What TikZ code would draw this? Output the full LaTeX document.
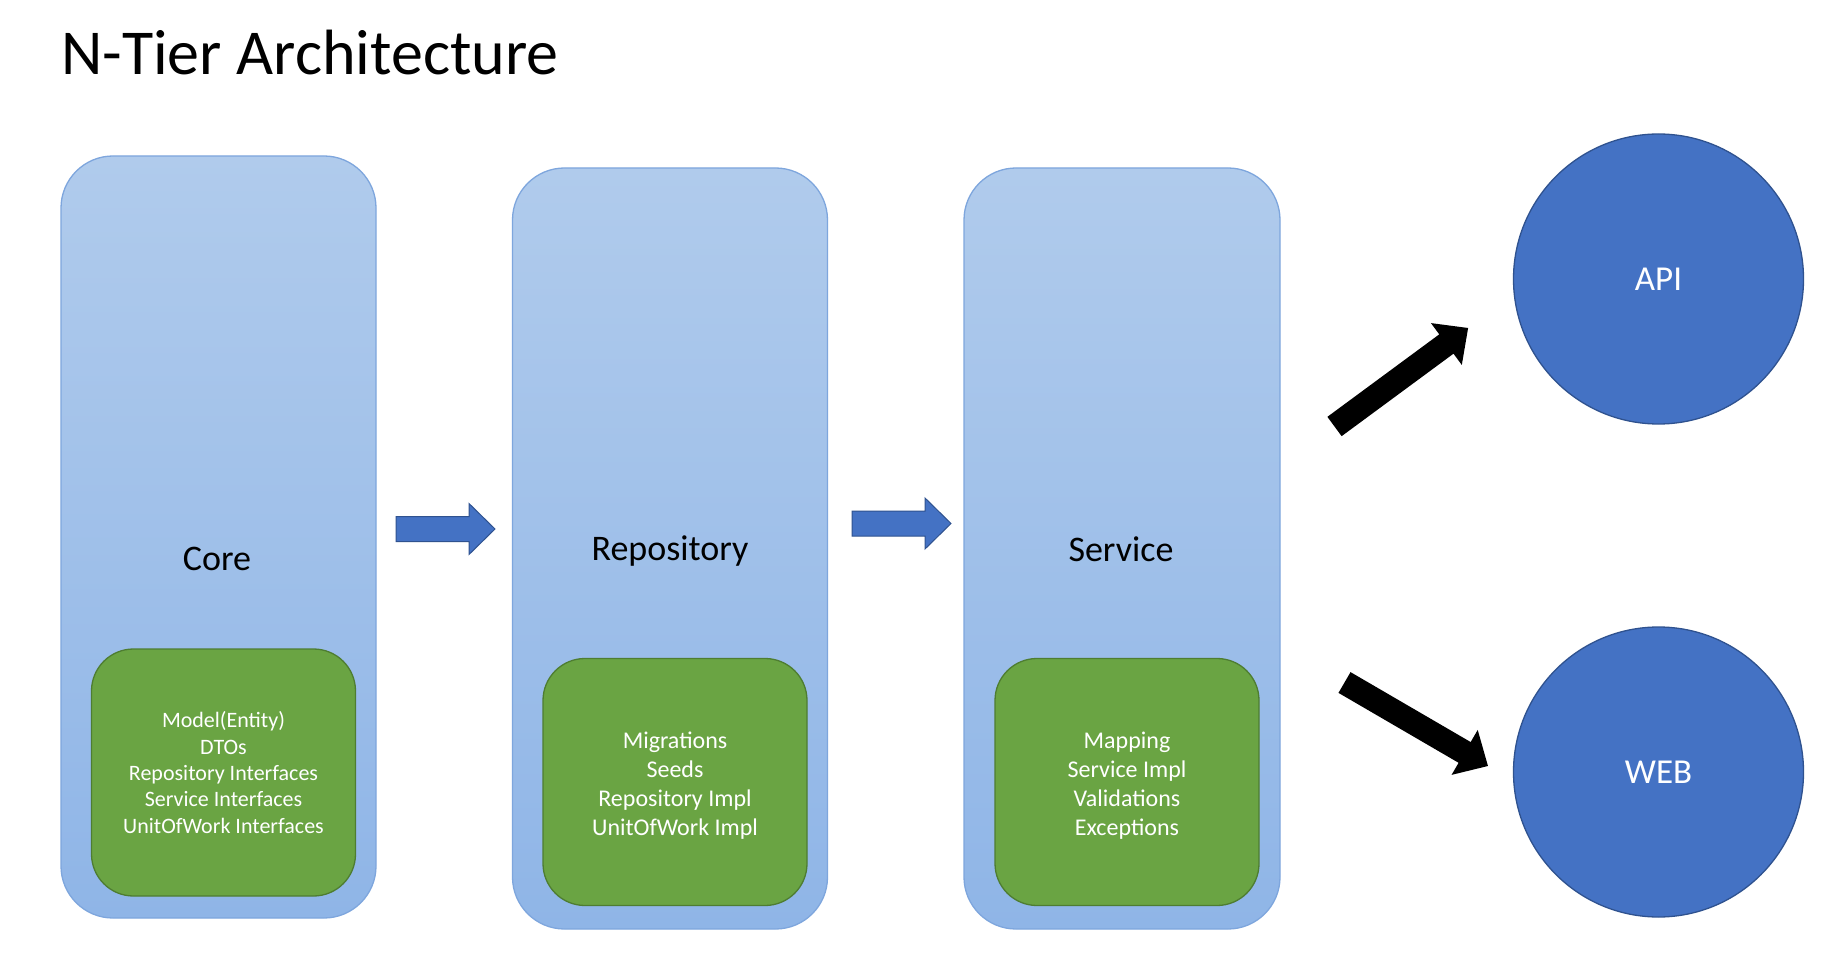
\documentclass[tikz,border=0pt]{standalone}
\usepackage{fontspec}
\setmainfont{Carlito}
\definecolor{boxtop}{HTML}{B0CBEC}
\definecolor{boxbot}{HTML}{8FB5E7}
\definecolor{boxline}{HTML}{7EA6DD}
\definecolor{grn}{HTML}{6AA443}
\definecolor{grnline}{HTML}{4E7D31}
\definecolor{blu}{HTML}{4472C4}
\definecolor{bluline}{HTML}{2F528F}
\newcommand\myfs[2]{\fontsize{#1}{#2}\selectfont}
\begin{document}
\begin{tikzpicture}[x=1pt,y=-1pt,
  tier/.style={rectangle, rounded corners=52pt, top color=boxtop, bottom color=boxbot,
    draw=boxline, line width=1.3pt, inner sep=0pt},
  tierlabel/.style={font=\myfs{36}{40}, text=black},
  inner/.style={rectangle, rounded corners=42pt, fill=grn, draw=grnline, line width=1.3pt,
    inner sep=0pt, minimum width=264pt, minimum height=247pt},
  innertext/.style={text=white, align=center, inner sep=0pt},
  client/.style={circle, fill=blu, draw=bluline, line width=1.3pt, minimum size=290pt,
    inner sep=0pt, text=white, font=\myfs{35}{40}},
  flow/.style={fill=blu, draw=bluline, line width=1pt},
  bigarrow/.style={fill=black}
]
\useasboundingbox (0,0) rectangle (1839,957);
\fill[white] (0,0) rectangle (1839,957);

\node[anchor=base west, inner sep=0pt, font=\myfs{64}{70}] (title) at (61,75) {N-Tier Architecture};

% tiers
\node[tier, minimum width=315pt, minimum height=762pt] (core) at (218.5,537) {};
\node[tier, minimum width=315pt, minimum height=761pt] (repo) at (670,548.5) {};
\node[tier, minimum width=316pt, minimum height=761pt] (serv) at (1122,548.5) {};

\node[tierlabel] (corel) at (217,559) {Core};
\node[tierlabel] (repol) at (670,551.5) {Repository};
\node[tierlabel] (servl) at (1121,549) {Service};

% inner boxes
\node[inner] (coreg) at (223.5,772.5) {};
\node[inner] (repog) at (675,782) {};
\node[inner] (servg) at (1127,782) {};
\node[innertext, font=\myfs{22}{26.4}] (coret) at (223.5,772.5) {Model(Entity)\\DTOs\\Repository Interfaces\\Service Interfaces\\UnitOfWork Interfaces};
\node[innertext, font=\myfs{24}{29}] (repot) at (675,785.5) {Migrations\\Seeds\\Repository Impl\\UnitOfWork Impl};
\node[innertext, font=\myfs{24}{29}] (servt) at (1127,785.5) {Mapping\\Service Impl\\Validations\\Exceptions};

% clients
\node[client] (api) at (1658.5,279) {API};
\node[client] (web) at (1658.5,772) {WEB};

% blue flow arrows
\draw[flow] (396,516.5) -- (469,516.5) -- (469,503.5) -- (495,529) -- (469,554.5) -- (469,541.5) -- (396,541.5) -- cycle;
\draw[flow] (852,511) -- (925,511) -- (925,498) -- (951,523.5) -- (925,549) -- (925,536) -- (852,536) -- cycle;

% black arrows
\begin{scope}[shift={(1334.5,426.5)}, rotate=36.4]
  \fill[bigarrow] (0,-12) -- (139,-12) -- (139,-26) -- (166,0) -- (139,26) -- (139,12) -- (0,12) -- cycle;
\end{scope}
\begin{scope}[shift={(1344.5,682.5)}, rotate=-30.2]
  \fill[bigarrow] (0,-12) -- (139,-12) -- (139,-26) -- (166,0) -- (139,26) -- (139,12) -- (0,12) -- cycle;
\end{scope}
\end{tikzpicture}
\end{document}
